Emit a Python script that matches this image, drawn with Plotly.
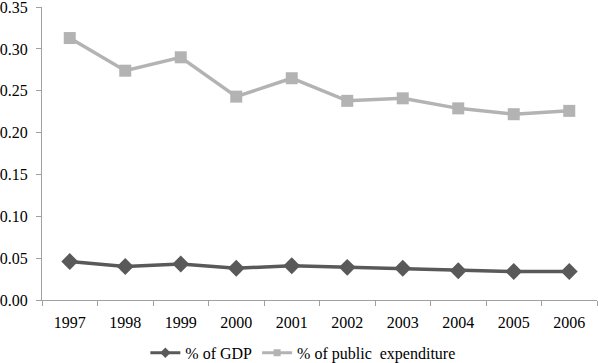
import plotly.graph_objects as go

years = ["1997", "1998", "1999", "2000", "2001", "2002", "2003", "2004", "2005", "2006"]
gdp = [0.046, 0.040, 0.043, 0.038, 0.041, 0.039, 0.038, 0.035, 0.034, 0.034]
expenditure = [0.313, 0.274, 0.290, 0.243, 0.265, 0.238, 0.241, 0.229, 0.222, 0.226]
y_ticks = [0.00, 0.05, 0.10, 0.15, 0.20, 0.25, 0.30, 0.35]

FONT = "Liberation Serif, Times New Roman, serif"
C_GDP = "#595959"
C_EXP = "#b3b3b3"

fig = go.Figure()
fig.add_trace(go.Scatter(
    x=years, y=gdp, name="% of GDP", mode="lines+markers", showlegend=False,
    line=dict(color=C_GDP, width=3.5),
    marker=dict(symbol="diamond", size=13, color=C_GDP),
))
fig.add_trace(go.Scatter(
    x=years, y=expenditure, name="% of public  expenditure", mode="lines+markers",
    showlegend=False,
    line=dict(color=C_EXP, width=3.5),
    marker=dict(symbol="square", size=12, color=C_EXP),
))
# legend entries with smaller symbols, as in the reference
fig.add_trace(go.Scatter(
    x=[None], y=[None], name="% of GDP", mode="lines+markers",
    line=dict(color=C_GDP, width=3), marker=dict(symbol="diamond", size=8, color=C_GDP),
))
fig.add_trace(go.Scatter(
    x=[None], y=[None], name="% of public  expenditure", mode="lines+markers",
    line=dict(color=C_EXP, width=3), marker=dict(symbol="square", size=7, color=C_EXP),
))

fig.update_layout(
    width=598, height=363,
    margin=dict(l=42, r=1, t=7, b=63),
    paper_bgcolor="white", plot_bgcolor="white",
    font=dict(family=FONT, size=16, color="#000000"),
    showlegend=True,
    legend=dict(orientation="h", x=0.47, xanchor="center",
                yref="container", y=0.028, yanchor="middle",
                font=dict(family=FONT, size=16), itemwidth=30,
                tracegroupgap=0),
    xaxis=dict(
        type="category", range=[-0.5, 9.5],
        showline=True, linecolor="#a0a0a0", linewidth=1,
        ticks="outside", tickson="boundaries", ticklen=5, tickcolor="#a0a0a0",
        showgrid=False, zeroline=False, automargin=False,
        ticklabelstandoff=8, ticklabeloverflow="allow",
        tickfont=dict(family=FONT, size=16),
    ),
    yaxis=dict(
        range=[0, 0.3501], tickvals=y_ticks, tickformat=".2f",
        showline=True, linecolor="#a0a0a0", linewidth=1,
        ticks="outside", ticklen=5, tickcolor="#a0a0a0",
        showgrid=False, zeroline=False, automargin=False,
        ticklabelstandoff=5, ticklabeloverflow="allow",
        tickfont=dict(family=FONT, size=16),
    ),
)

fig.write_html("out.html", config={"displayModeBar": False},
               post_script="document.body.style.margin='0';")
